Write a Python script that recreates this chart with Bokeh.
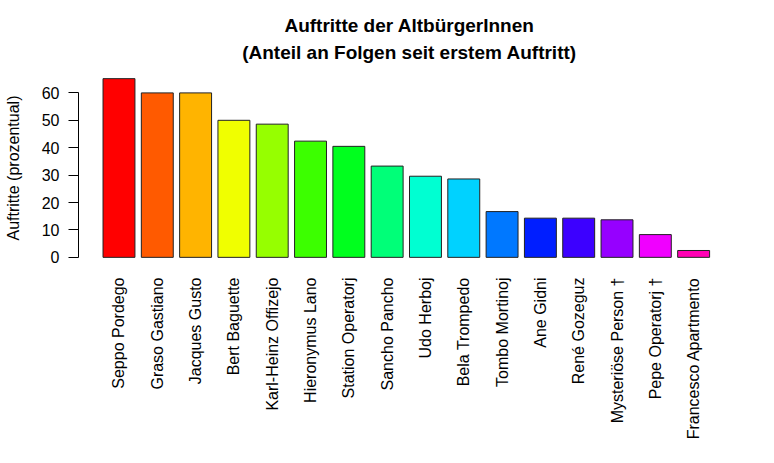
import math
from bokeh.plotting import figure
from bokeh.models import Range1d, FixedTicker, Title
from bokeh.embed import file_html
from bokeh.resources import INLINE

names = ["Seppo Pordego", "Graso Gastiano", "Jacques Gusto", "Bert Baguette",
         "Karl-Heinz Offizejo", "Hieronymus Lano", "Station Operatorj",
         "Sancho Pancho", "Udo Herboj", "Bela Trompedo", "Tombo Mortinoj",
         "Ane Gidni", "René Gozeguz", "Mysteriöse Person †", "Pepe Operatorj †",
         "Francesco Apartmento"]
values = [65.2, 60.0, 60.0, 50.0, 48.6, 42.4, 40.5, 33.3, 29.6, 28.6,
          16.7, 14.3, 14.3, 13.7, 8.3, 2.5]
colors = ["#FF0000", "#FF5A00", "#FFB400", "#F0FF00", "#96FF00", "#3CFF00",
          "#00FF1E", "#00FF78", "#00FFD2", "#00D2FF", "#0078FF", "#001EFF",
          "#3C00FF", "#9600FF", "#F000FF", "#FF00B4"]
y_ticks = [0, 10, 20, 30, 40, 50, 60]
title_line1 = "Auftritte der AltbürgerInnen"
title_line2 = "(Anteil an Folgen seit erstem Auftritt)"
y_label = "Auftritte (prozentual)"

FONT = "Liberation Sans"
n = len(names)
xs = [0.7 + 1.2 * i for i in range(n)]
xmin, xmax = 0.2, 1.2 * n + 0.2
ypad = 0.04 * max(values)

p = figure(width=758, height=447, output_backend="svg", toolbar_location=None,
           x_range=Range1d(xmin - 0.04 * (xmax - xmin), xmax + 0.04 * (xmax - xmin)),
           y_range=Range1d(-ypad, max(values) + ypad),
           min_border_left=78, min_border_right=18, min_border_top=71,
           min_border_bottom=183)

p.vbar(x=xs, top=values, bottom=0, width=1.0, fill_color=colors,
       line_color="#222222", line_width=1)

p.title = None
p.add_layout(Title(text=title_line2, align="center",
                   text_font=FONT, text_font_size="19px", text_font_style="bold",
                   text_color="black", standoff=17), "above")
p.add_layout(Title(text=title_line1, align="center",
                   text_font=FONT, text_font_size="19px", text_font_style="bold",
                   text_color="black", standoff=-9), "above")

p.grid.visible = False
p.outline_line_color = None
p.background_fill_color = "white"
p.border_fill_color = "white"

xa = p.xaxis[0]
xa.ticker = FixedTicker(ticks=xs)
xa.major_label_overrides = {x: nm for x, nm in zip(xs, names)}
xa.major_label_orientation = math.pi / 2
xa.axis_line_color = None
xa.major_tick_line_color = None
xa.minor_tick_line_color = None
xa.major_tick_out = 0
xa.major_tick_in = 0
xa.major_label_standoff = 13
xa.major_label_text_font = FONT
xa.major_label_text_font_size = "16px"
xa.major_label_text_color = "black"

ya = p.yaxis[0]
ya.ticker = FixedTicker(ticks=y_ticks)
ya.bounds = (0, 60)
ya.axis_line_color = "black"
ya.major_tick_line_color = "black"
ya.minor_tick_line_color = None
ya.major_tick_out = 10
ya.major_tick_in = 0
ya.major_label_standoff = 9
ya.major_label_text_font = FONT
ya.major_label_text_font_size = "16px"
ya.major_label_text_color = "black"
ya.axis_label = y_label
ya.axis_label_text_font = FONT
ya.axis_label_text_font_size = "16px"
ya.axis_label_text_font_style = "normal"
ya.axis_label_text_color = "black"
ya.axis_label_standoff = 17

open("out.html", "w").write(file_html(p, INLINE))
